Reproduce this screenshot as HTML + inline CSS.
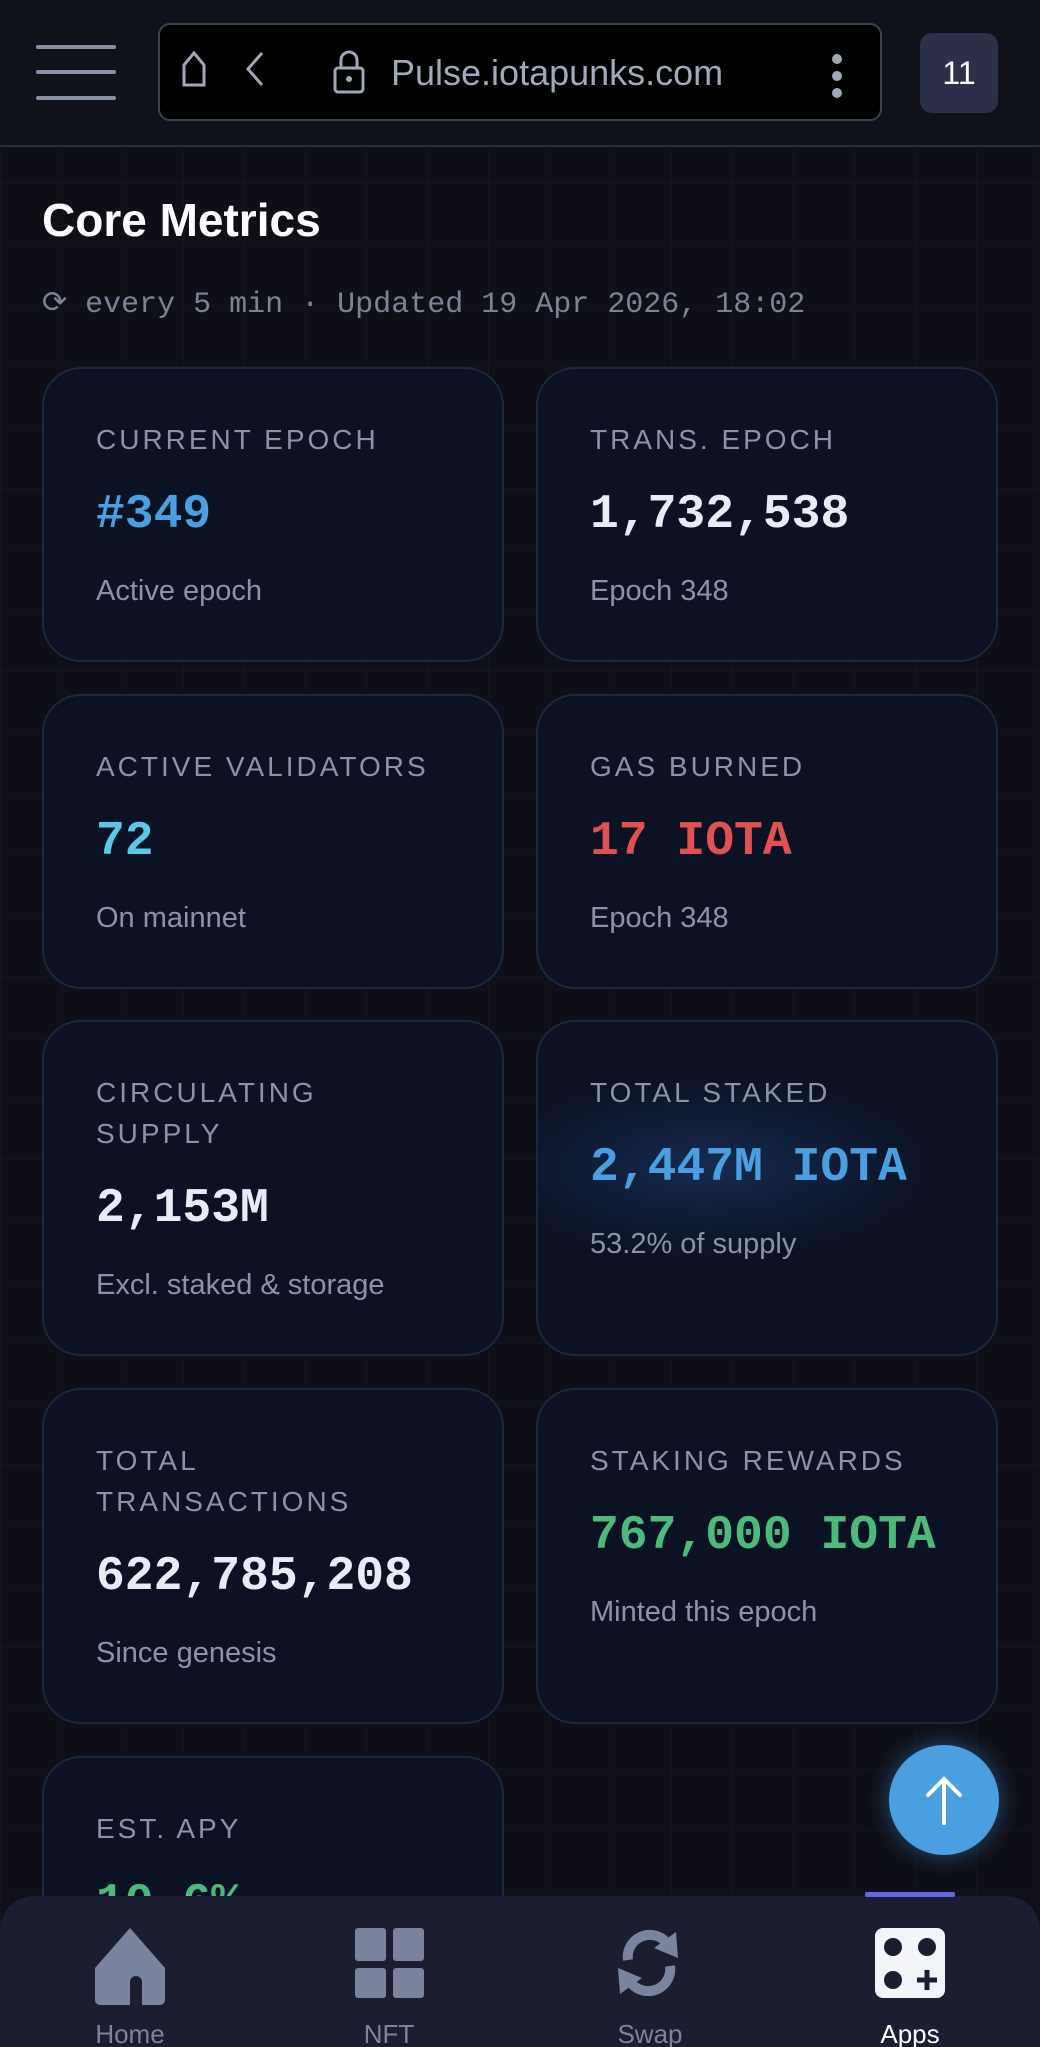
<!DOCTYPE html>
<html><head><meta charset="utf-8">
<style>
*{margin:0;padding:0;box-sizing:border-box}
html,body{width:1040px;height:2047px;overflow:hidden}
body{position:relative;background:#0e0f17;font-family:"Liberation Sans",sans-serif;
background-image:linear-gradient(rgba(255,255,255,0.018) 1px,transparent 1px),linear-gradient(90deg,rgba(255,255,255,0.018) 1px,transparent 1px);background-size:61px 61px;}
.hdr{position:absolute;left:0;top:0;width:1040px;height:147px;background:#10121a;border-bottom:2px solid #2a3142}
.hb{position:absolute;left:36px;width:80px;height:4px;border-radius:2px;background:#8890a4}
.url{position:absolute;left:158px;top:23px;width:724px;height:98px;background:#000;border:2px solid #3a4152;border-radius:12px}
.badge{position:absolute;left:920px;top:33px;width:78px;height:80px;background:#2a3148;border-radius:12px;color:#fff;font-size:32px;text-align:center;line-height:80px}
h1{position:absolute;left:42px;top:190px;font-size:46px;color:#fff;font-weight:bold;line-height:60px}
.sub{position:absolute;left:42px;top:285px;font-family:"Liberation Mono",monospace;font-size:30px;color:#7c8396;line-height:40px;white-space:pre}
.card{position:absolute;width:462px;background:#0b1224;border:2px solid #1c283d;border-radius:39px;padding:50px 0 0 52px;overflow:hidden}
.lb{font-size:28px;letter-spacing:3px;color:#8b93a7;line-height:41px}
.v{font-family:"Liberation Mono",monospace;font-weight:bold;font-size:48px;line-height:60px;margin-top:25px;white-space:nowrap}
.s{font-size:29px;color:#8b93a7;line-height:40px;margin-top:26px}
.nav{position:absolute;left:0;top:1896px;width:1040px;height:160px;background:#1a1e30;border-radius:34px 34px 0 0}
.nl{position:absolute;top:2018px;font-size:26px;color:#7a849e;width:120px;text-align:center;line-height:32px}
</style></head><body>
<div class="hdr">
 <div class="hb" style="top:45px"></div><div class="hb" style="top:70px"></div><div class="hb" style="top:96px"></div>
 <div class="url">
  <svg style="position:absolute;left:0;top:0" width="724" height="98">
   <path d="M24 60 V40 L34 28 L44 40 V60 Z" fill="none" stroke="#a0a8ba" stroke-width="3"/>
   <path d="M102 28 L88 44 L102 60" fill="none" stroke="#a0a8ba" stroke-width="3"/>
   <rect x="175" y="43" width="28" height="24" rx="3" fill="none" stroke="#a0a8ba" stroke-width="3"/>
   <path d="M181 43 V35 a8 8 0 0 1 16 0 V43" fill="none" stroke="#a0a8ba" stroke-width="3"/>
   <circle cx="189" cy="54" r="3" fill="#a0a8ba"/>
   <circle cx="677" cy="34" r="5" fill="#a0a8ba"/><circle cx="677" cy="51" r="5" fill="#a0a8ba"/><circle cx="677" cy="68" r="5" fill="#a0a8ba"/>
  </svg>
  <div style="position:absolute;left:231px;top:26px;font-size:36px;color:#a0a8ba;line-height:44px">Pulse.iotapunks.com</div>
 </div>
 <div class="badge">11</div>
</div>
<h1>Core Metrics</h1>
<div class="sub">⟳ every 5 min · Updated 19 Apr 2026, 18:02</div>

<div class="card" style="left:42px;top:367px;height:295px"><div class="lb">CURRENT EPOCH</div><div class="v" style="color:#4a9fe0">#349</div><div class="s">Active epoch</div></div>
<div class="card" style="left:536px;top:367px;height:295px"><div class="lb">TRANS. EPOCH</div><div class="v" style="color:#e8ecf4">1,732,538</div><div class="s">Epoch 348</div></div>
<div class="card" style="left:42px;top:694px;height:295px"><div class="lb">ACTIVE VALIDATORS</div><div class="v" style="color:#5cc8e8">72</div><div class="s">On mainnet</div></div>
<div class="card" style="left:536px;top:694px;height:295px"><div class="lb">GAS BURNED</div><div class="v" style="color:#e05252">17 IOTA</div><div class="s">Epoch 348</div></div>
<div class="card" style="left:42px;top:1020px;height:336px"><div class="lb">CIRCULATING<br>SUPPLY</div><div class="v" style="color:#e8ecf4">2,153M</div><div class="s">Excl. staked &amp; storage</div></div>
<div class="card" style="left:536px;top:1020px;height:336px;background:radial-gradient(ellipse 220px 90px at 170px 145px,rgba(40,90,160,0.35),transparent),#0b1224"><div class="lb">TOTAL STAKED</div><div class="v" style="color:#4a9fe0">2,447M IOTA</div><div class="s">53.2% of supply</div></div>
<div class="card" style="left:42px;top:1388px;height:336px"><div class="lb">TOTAL<br>TRANSACTIONS</div><div class="v" style="color:#e8ecf4">622,785,208</div><div class="s">Since genesis</div></div>
<div class="card" style="left:536px;top:1388px;height:336px"><div class="lb">STAKING REWARDS</div><div class="v" style="color:#4cba7a">767,000 IOTA</div><div class="s">Minted this epoch</div></div>
<div class="card" style="left:42px;top:1756px;height:336px"><div class="lb">EST. APY</div><div class="v" style="color:#4cba7a">10.6%</div></div>

<div style="position:absolute;left:889px;top:1745px;width:110px;height:110px;border-radius:50%;background:#4a9fe0;box-shadow:0 0 24px rgba(74,159,224,0.45)">
 <svg width="110" height="110"><path d="M55 78 V34 M39 50 L55 34 L71 50" fill="none" stroke="#fff" stroke-width="4" stroke-linecap="round"/></svg>
</div>

<div class="nav"></div>
<div style="position:absolute;left:865px;top:1892px;width:90px;height:5px;background:#6366e8;border-radius:2px"></div>
<svg style="position:absolute;left:0;top:1920px" width="1040" height="90">
 <path d="M130 8 L165 48 V80 a5 5 0 0 1 -5 5 H142 V62 a6 6 0 0 0 -12 0 V85 H100 a5 5 0 0 1 -5 -5 V48 Z" fill="#7a849e"/>
 <rect x="355" y="8" width="31" height="33" rx="3" fill="#7a849e"/><rect x="393" y="8" width="31" height="33" rx="3" fill="#7a849e"/>
 <rect x="355" y="48" width="31" height="30" rx="3" fill="#7a849e"/><rect x="393" y="48" width="31" height="30" rx="3" fill="#7a849e"/>
 <path d="M628 40 a22 22 0 0 1 38 -18" fill="none" stroke="#7a849e" stroke-width="10"/>
 <path d="M676 12 L678 38 L654 28 Z" fill="#7a849e"/>
 <path d="M670 46 a22 22 0 0 1 -38 18" fill="none" stroke="#7a849e" stroke-width="10"/>
 <path d="M620 74 L618 48 L642 58 Z" fill="#7a849e"/>
 <rect x="875" y="8" width="70" height="70" rx="8" fill="#f4f5f8"/>
 <circle cx="893" cy="27" r="9" fill="#1a1e30"/><circle cx="927" cy="27" r="9" fill="#1a1e30"/><circle cx="893" cy="60" r="9" fill="#1a1e30"/>
 <path d="M927 50 V70 M917 60 H937" stroke="#1a1e30" stroke-width="5"/>
</svg>
<div class="nl" style="left:70px">Home</div>
<div class="nl" style="left:329px">NFT</div>
<div class="nl" style="left:590px">Swap</div>
<div class="nl" style="left:850px;color:#fff">Apps</div>
</body></html>
